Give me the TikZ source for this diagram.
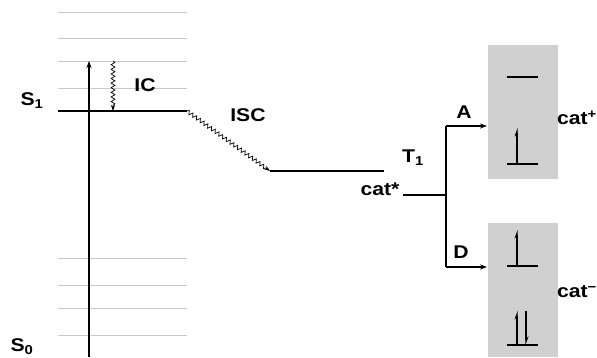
\documentclass[tikz,border=0pt]{standalone}
\usepackage{fontspec}
\setmainfont{Liberation Sans}[FakeStretch=1.15]
\usetikzlibrary{arrows.meta,decorations.pathmorphing}
\definecolor{lvl}{HTML}{C8C8C8}
\definecolor{boxg}{HTML}{D0D0D0}
\begin{document}
\begin{tikzpicture}[x=1bp,y=-1bp,
  lbl/.style={font=\fontsize{18.5}{21}\selectfont\bfseries, inner sep=0pt},
  level/.style={draw=lvl, line width=0.9bp},
  state/.style={draw=black, line width=1.1bp},
  tip/.style={-{Stealth[length=7bp,width=5bp]}},
  wavy/.style={decorate, decoration={snake, amplitude=1.9bp, segment length=4.6bp, post length=5bp}, line width=0.7bp},
  spinup/.style={line width=1.1bp, -{Stealth[left,length=7bp,width=5bp]}},
  gbox/.style={fill=boxg, draw=none, minimum width=70bp, minimum height=134bp, inner sep=0pt}]
\useasboundingbox (0,0) rectangle (597,357);
% vibrational levels
\foreach \y in {12,38,61,88,258,285,308,335}
  \draw[level] (58,\y) -- (187,\y);
% S1 level
\coordinate (s1L) at (58,111);
\coordinate (s1R) at (187,111);
\draw[state] (s1L) -- (s1R);
% excitation arrow
\coordinate (s0) at (89,357);
\coordinate (vtop) at (89,61);
\draw[state, tip] (s0) -- (vtop);
% IC
\coordinate (icA) at (113,61);
\coordinate (icB) at (113,111);
\draw[wavy, -{Stealth[length=6bp,width=4bp]}] (icA) -- (icB);
% ISC and T1
\coordinate (t1L) at (270,171);
\coordinate (t1R) at (384,171);
\draw[wavy, -{Stealth[length=6bp,width=4bp]}] (s1R) -- (t1L);
\draw[state] (t1L) -- (t1R);
% branching
\coordinate (cs) at (403,195);
\coordinate (br) at (446,195);
\coordinate (brA) at (446,126);
\coordinate (brD) at (446,267);
\coordinate (aT) at (487,126);
\coordinate (dT) at (487,267);
\draw[state] (cs) -- (br);
\draw[state] (brA) -- (brD);
\draw[state, tip] (brA) -- (aT);
\draw[state, tip] (brD) -- (dT);
% boxes
\node[gbox] (boxA) at (523,112) {};
\node[gbox] (boxD) at (523,290) {};
% orbitals cation
\draw[state] (507,77) -- (538,77);
\draw[state] (507,164) -- (538,164);
\draw[spinup] (517,164) -- (517,128);
% orbitals anion
\draw[state] (507,266) -- (538,266);
\draw[spinup] (517,266) -- (517,230);
\draw[state] (507,345) -- (538,345);
\draw[spinup] (517,345) -- (517,311);
\draw[spinup] (526,311) -- (526,345);
% labels
\node[lbl] (lS1) at (32,101) {S\textsubscript{1}};
\node[lbl] (lS0) at (22,347) {S\textsubscript{0}};
\node[lbl] (lIC) at (145,85) {IC};
\node[lbl] (lISC) at (248,115) {ISC};
\node[lbl] (lT1) at (413,158) {T\textsubscript{1}};
\node[lbl] (lcs) at (380,189) {cat*};
\node[lbl] (lA) at (464,112) {A};
\node[lbl] (lD) at (461,252) {D};
\node[lbl] (lcp) at (577,118) {cat\textsuperscript{+}};
\node[lbl] (lcm) at (577,292) {cat\textsuperscript{−}};
\end{tikzpicture}
\end{document}
